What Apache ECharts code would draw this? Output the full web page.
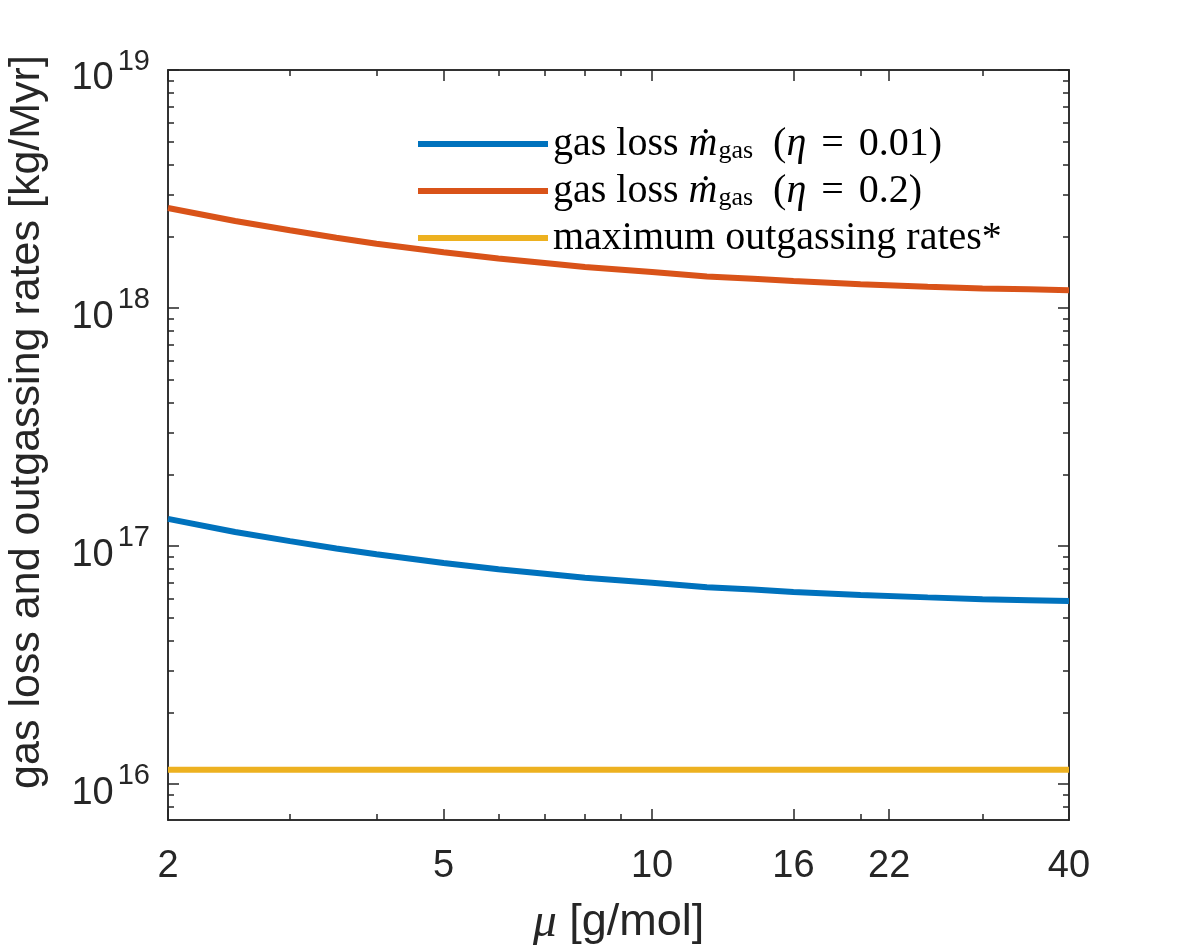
<!DOCTYPE html>
<html lang="en">
  <head>
    <meta charset="UTF-8" />
    <title>gas loss and outgassing rates</title>
    <script src="https://cdn.jsdelivr.net/npm/echarts@6/dist/echarts.min.js"></script>
    <style>
      html, body { margin: 0; padding: 0; background: #fff; }
      #main { width: 1181px; height: 945px; }
    </style>
  </head>
  <body>
    <div id="main"></div>
    <script type="text/javascript">
      // values
      const mu = [2, 2.5, 3, 3.5, 4, 5, 6, 7, 8, 10, 12, 14, 16, 20, 25, 30, 35, 40];
      const lossEta001 = [1.302e17, 1.146e17, 1.049e17, 0.977e17, 0.924e17, 0.849e17, 0.799e17, 0.765e17, 0.736e17,
        0.702e17, 0.671e17, 0.657e17, 0.642e17, 0.623e17, 0.609e17, 0.598e17, 0.593e17, 0.588e17];
      const lossEta02 = [2.632e18, 2.322e18, 2.122e18, 1.973e18, 1.864e18, 1.714e18, 1.615e18, 1.546e18, 1.486e18,
        1.417e18, 1.357e18, 1.327e18, 1.298e18, 1.258e18, 1.228e18, 1.209e18, 1.199e18, 1.189e18];
      const muEnds = [2, 40];
      const outgassingMax = [1.15e16, 1.15e16];

      // ticks
      const xMajor = [2, 5, 10, 16, 22, 40];
      const xMinor = [3, 4, 6, 7, 8, 9, 20, 30];
      const yMajor = [1e16, 1e17, 1e18, 1e19];
      const yMinor = [8e15, 9e15,
        2e16, 3e16, 4e16, 5e16, 6e16, 7e16, 8e16, 9e16,
        2e17, 3e17, 4e17, 5e17, 6e17, 7e17, 8e17, 9e17,
        2e18, 3e18, 4e18, 5e18, 6e18, 7e18, 8e18, 9e18];

      const seriesNames = ["eta001", "eta02", "outgas"];
      const colors = ["#0072BD", "#D95319", "#EDB120"];

      const ink = "#262626";
      const sans = "Liberation Sans, Arial, Helvetica, sans-serif";
      const serif = "Liberation Serif, Times New Roman, serif";

      var myChart = echarts.init(document.getElementById("main"));

      function pairs(xs, ys) {
        return xs.map(function (x, i) { return [x, ys[i]]; });
      }

      // one axis per tick length, all sharing the same grid and range
      function xAx(pos, ticks, len, withLabels) {
        return {
          type: "log", logBase: 10, min: 2, max: 40, position: pos,
          axisLine: { show: true, onZero: false, lineStyle: { color: ink, width: 1.5 } },
          axisTick: { show: true, inside: true, length: len, customValues: ticks, lineStyle: { color: ink, width: 1.5 } },
          axisLabel: withLabels ? {
            show: true, customValues: xMajor, margin: 28,
            color: ink, fontFamily: sans, fontSize: 38
          } : { show: false },
          splitLine: { show: false },
          minorTick: { show: false },
          name: withLabels ? "{i|μ} [g/mol]" : "",
          nameLocation: "middle",
          nameGap: 79,
          nameTextStyle: {
            color: ink, fontFamily: sans, fontSize: 45,
            rich: { i: { fontFamily: serif, fontStyle: "italic", fontSize: 48, color: ink } }
          }
        };
      }
      function yAx(pos, ticks, len, withLabels) {
        return {
          type: "log", logBase: 10, min: 7.07e15, max: 1e19, position: pos,
          axisLine: { show: true, onZero: false, lineStyle: { color: ink, width: 1.5 } },
          axisTick: { show: true, inside: true, length: len, customValues: ticks, lineStyle: { color: ink, width: 1.5 } },
          axisLabel: withLabels ? {
            show: true, customValues: yMajor, margin: 18,
            formatter: function (v) {
              return "{b|10}{e|" + Math.round(Math.log10(v)) + "}";
            },
            rich: {
              b: { fontFamily: sans, fontSize: 38, color: ink, lineHeight: 56, verticalAlign: "bottom" },
              e: { fontFamily: sans, fontSize: 29, color: ink, lineHeight: 34, padding: [5, 0, 0, 4], verticalAlign: "top" }
            }
          } : { show: false },
          splitLine: { show: false },
          minorTick: { show: false },
          name: withLabels ? "gas loss and outgassing rates [kg/Myr]" : "",
          nameLocation: "middle",
          nameGap: 119,
          nameTextStyle: { color: ink, fontFamily: sans, fontSize: 43, padding: [0, 0, 0, 46] }
        };
      }

      const legendRich = {
        r: { fontFamily: serif, fontSize: 40, color: "#000", lineHeight: 40, verticalAlign: "middle" },
        i: { fontFamily: serif, fontStyle: "italic", fontSize: 40, color: "#000", lineHeight: 40, verticalAlign: "middle" },
        q: { fontFamily: serif, fontSize: 40, color: "#000", lineHeight: 40, padding: [0, 15, 0, 15], verticalAlign: "middle" },
        s: { fontFamily: serif, fontSize: 26, color: "#000", lineHeight: 40, padding: [0, 0, 0, 1], verticalAlign: "bottom" }
      };
      const legendText = {
        eta001: "{r|gas loss }{i|ṁ}{s|gas}{r|  (}{i|η}{q|=}{r|0.01)}",
        eta02: "{r|gas loss }{i|ṁ}{s|gas}{r|  (}{i|η}{q|=}{r|0.2)}",
        outgas: "{r|maximum outgassing rates*}"
      };

      var option = {
        animation: false,
        backgroundColor: "#ffffff",
        grid: { left: 168, right: 112, top: 70, bottom: 125, containLabel: false, outerBoundsMode: "none" },
        legend: {
          orient: "vertical",
          left: 413,
          top: 119,
          icon: "rect",
          itemWidth: 130,
          itemHeight: 6,
          itemGap: 7,
          data: seriesNames,
          formatter: function (name) { return legendText[name]; },
          textStyle: { rich: legendRich }
        },
        xAxis: [
          xAx("bottom", xMajor, 11, true),
          xAx("bottom", xMinor, 6, false),
          xAx("top", xMajor, 11, false),
          xAx("top", xMinor, 6, false)
        ],
        yAxis: [
          yAx("left", yMajor, 11, true),
          yAx("left", yMinor, 6, false),
          yAx("right", yMajor, 11, false),
          yAx("right", yMinor, 6, false)
        ],
        series: [
          {
            name: seriesNames[0], type: "line", showSymbol: false,
            data: pairs(mu, lossEta001),
            lineStyle: { color: colors[0], width: 6 }, itemStyle: { color: colors[0] }
          },
          {
            name: seriesNames[1], type: "line", showSymbol: false,
            data: pairs(mu, lossEta02),
            lineStyle: { color: colors[1], width: 6 }, itemStyle: { color: colors[1] }
          },
          {
            name: seriesNames[2], type: "line", showSymbol: false,
            data: pairs(muEnds, outgassingMax),
            lineStyle: { color: colors[2], width: 6 }, itemStyle: { color: colors[2] }
          }
        ]
      };
      myChart.setOption(option);
    </script>
  </body>
</html>
